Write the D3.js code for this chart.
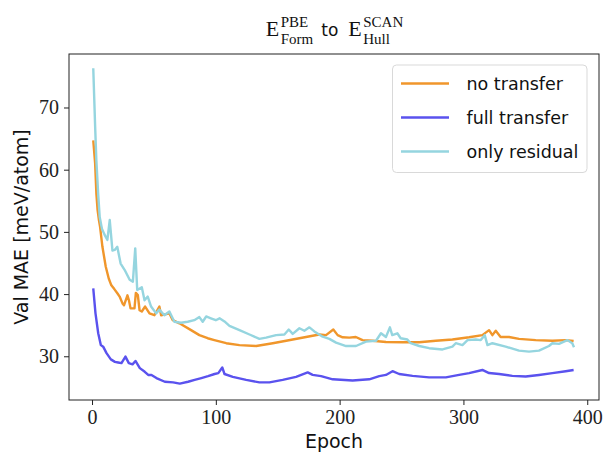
<!DOCTYPE html>
<html>
<head>
<meta charset="utf-8">
<script src="https://cdn.jsdelivr.net/npm/d3@7"></script>
<style>
  html, body { margin: 0; padding: 0; background: #fff; }
  svg { display: block; }
</style>
</head>
<body>
<svg id="chart" width="604" height="454"></svg>
<script>
// ---- data ----
const seriesNames = ["no transfer", "full transfer", "only residual"];
const seriesColors = ["#F0962B", "#5A52EE", "#95D5DF"];

const noTransferEpochs = [1, 2.5, 3.5, 4.5, 5.5, 6.5, 8.4, 11.1, 13.5, 15.6, 18, 20.6, 22.3, 24.6, 25.8, 28.6, 29.8, 31.1, 34.3, 35.4, 37, 38.4, 40.2, 42.9, 46.4, 50.4, 54.4, 55.8, 62.5, 65.2, 70.6, 80, 86.7, 93.4, 98.8, 108.4, 119.1, 132.6, 146, 156.8, 167.5, 178.2, 183.6, 189, 194.9, 198.4, 202.4, 207.8, 213.1, 218.5, 226.6, 237.4, 250.8, 264.3, 277.7, 291.1, 304.6, 315.3, 320.7, 323.4, 326.1, 330, 336.8, 344.9, 358.4, 371.8, 382.6, 389];
const noTransferValues = [64.7, 61.0, 56.2, 53.5, 52.0, 50.8, 47.6, 44.4, 42.5, 41.4, 40.8, 40.1, 39.6, 38.5, 38.2, 39.8, 39.0, 37.7, 37.7, 40.2, 39.85, 37.4, 37.2, 38.0, 36.9, 36.6, 38.0, 36.6, 36.9, 35.8, 35.3, 34.2, 33.4, 32.9, 32.6, 32.1, 31.8, 31.65, 32.1, 32.5, 32.9, 33.3, 33.5, 33.4, 34.3, 33.4, 33.05, 33.0, 33.1, 32.6, 32.5, 32.3, 32.25, 32.25, 32.5, 32.7, 33.05, 33.4, 34.2, 33.4, 34.1, 33.1, 33.1, 32.8, 32.6, 32.5, 32.6, 32.45];

const fullTransferEpochs = [1, 2.8, 5, 7.1, 9, 11.7, 15.2, 18.5, 21.1, 23.8, 27, 29.7, 32.7, 35.1, 38.6, 42.6, 45.4, 48, 52, 58.8, 65.5, 70.9, 77.6, 82.9, 88.3, 93.7, 99, 102, 105.2, 107, 113.7, 124.5, 135.2, 143.3, 154, 164.8, 174.2, 178.2, 185, 194.4, 210.5, 223.9, 232, 237.4, 242.7, 248.1, 258.9, 272.3, 285.8, 296.5, 304.6, 315.3, 320.7, 328.8, 339.5, 350.3, 361, 371.8, 382.6, 389];
const fullTransferValues = [40.9, 36.9, 33.7, 31.8, 31.55, 30.5, 29.5, 29.1, 29.0, 28.9, 29.95, 28.9, 28.7, 29.25, 28.1, 27.5, 27.0, 27.0, 26.5, 25.9, 25.8, 25.6, 25.9, 26.2, 26.5, 26.8, 27.15, 27.3, 28.2, 27.15, 26.7, 26.2, 25.8, 25.8, 26.2, 26.7, 27.4, 27.0, 26.8, 26.3, 26.1, 26.3, 26.8, 27.0, 27.6, 27.15, 26.85, 26.6, 26.6, 27.0, 27.3, 27.8, 27.3, 27.15, 26.85, 26.75, 27.0, 27.3, 27.6, 27.8];

const onlyResidualEpochs = [1, 2.5, 3.5, 5, 6.2, 8, 10, 12.4, 14.3, 16.5, 18.3, 20.4, 23.1, 26.3, 30.4, 33, 34.9, 36.5, 40.2, 42.4, 45, 47.7, 51.8, 54.4, 58.4, 62.5, 66.5, 71.9, 77.3, 82.6, 86.7, 89.4, 92.2, 96, 100, 103, 107, 111, 119.1, 127.2, 135.2, 140.6, 148.7, 155.4, 158.9, 162.1, 167.5, 171.5, 175.6, 179.6, 186.3, 191.7, 197.1, 205.2, 213.2, 221.3, 229.4, 233.4, 237.4, 240.6, 242.5, 246.6, 249.3, 254.7, 257.4, 264.3, 272.3, 283.1, 291.1, 293.8, 299.2, 303.3, 310, 314, 317.2, 319.4, 323.4, 334.1, 344.9, 353, 361, 369.1, 371.8, 377.2, 383.9, 387.9, 389.3];
const onlyResidualValues = [76.3, 67.0, 61.5, 56.0, 52.4, 50.5, 49.6, 48.7, 51.9, 47.0, 47.1, 47.6, 44.9, 43.9, 42.3, 42.0, 47.35, 40.65, 41.1, 39.0, 39.6, 38.0, 36.9, 37.5, 36.6, 37.2, 35.55, 35.4, 35.55, 35.8, 36.3, 35.55, 36.4, 36.1, 35.8, 36.1, 35.6, 34.9, 34.2, 33.5, 32.8, 33.0, 33.4, 33.5, 34.3, 33.6, 34.5, 34.1, 34.65, 34.0, 33.15, 32.8, 32.2, 31.65, 31.65, 32.35, 32.5, 33.7, 33.1, 34.65, 33.4, 33.7, 32.9, 32.7, 32.1, 31.65, 31.3, 31.1, 31.55, 32.1, 31.8, 32.6, 32.7, 32.6, 33.4, 31.8, 32.1, 31.55, 30.9, 30.75, 30.9, 31.65, 32.1, 32.0, 32.6, 32.1, 31.45];

const xTicks = [0, 100, 200, 300, 400];
const yTicks = [30, 40, 50, 60, 70];
const xLabel = "Epoch";
const yLabel = "Val MAE [meV/atom]";
// title pieces: E^{PBE}_{Form} to E^{SCAN}_{Hull}
const titleParts = [
  { base: "E", sup: "PBE", sub: "Form" },
  { word: "to" },
  { base: "E", sup: "SCAN", sub: "Hull" }
];

// ---- layout ----
const svg = d3.select("#chart");
const margin = { left: 69, right: 5, top: 54, bottom: 54 };
const W = 604, H = 454;
const x = d3.scaleLinear().domain([-18.6, 409.5]).range([margin.left, W - margin.right]);
const y = d3.scaleLinear().domain([22.97, 78.6]).range([H - margin.bottom, margin.top]);

const serif = "'Liberation Serif', 'DejaVu Serif', serif";
const sans = "'DejaVu Sans', 'Open Sans', sans-serif";

const series = [
  { name: seriesNames[0], color: seriesColors[0], ep: noTransferEpochs, v: noTransferValues },
  { name: seriesNames[1], color: seriesColors[1], ep: fullTransferEpochs, v: fullTransferValues },
  { name: seriesNames[2], color: seriesColors[2], ep: onlyResidualEpochs, v: onlyResidualValues }
];

const line = d3.line().x(d => x(d[0])).y(d => y(d[1]));
const plot = svg.append("g");
series.forEach(s => {
  plot.append("path")
    .datum(s.ep.map((e, i) => [e, s.v[i]]))
    .attr("fill", "none")
    .attr("stroke", s.color)
    .attr("stroke-width", 2.4)
    .attr("stroke-linejoin", "round")
    .attr("d", line);
});

// frame
svg.append("rect")
  .attr("x", margin.left).attr("y", margin.top)
  .attr("width", W - margin.right - margin.left)
  .attr("height", H - margin.bottom - margin.top)
  .attr("fill", "none").attr("stroke", "#222").attr("stroke-width", 1);

// axes
const xAxis = svg.append("g")
  .attr("transform", `translate(0,${H - margin.bottom})`)
  .call(d3.axisBottom(x).tickValues(xTicks).tickSize(5).tickPadding(5).tickFormat(d3.format("d")));
const yAxis = svg.append("g")
  .attr("transform", `translate(${margin.left},0)`)
  .call(d3.axisLeft(y).tickValues(yTicks).tickSize(5).tickPadding(5).tickFormat(d3.format("d")));
[xAxis, yAxis].forEach(a => {
  a.select(".domain").remove();
  a.selectAll(".tick line").attr("stroke", "#222");
  a.selectAll(".tick text").attr("font-family", serif).attr("font-size", 20).attr("fill", "#222");
});

// axis labels
svg.append("text")
  .attr("x", (margin.left + W - margin.right) / 2).attr("y", 448)
  .attr("text-anchor", "middle").attr("font-family", sans).attr("font-size", 19)
  .attr("fill", "#111").text(xLabel);
svg.append("text")
  .attr("transform", `translate(28,${(margin.top + H - margin.bottom) / 2}) rotate(-90)`)
  .attr("text-anchor", "middle").attr("font-family", sans).attr("font-size", 19)
  .attr("fill", "#111").text(yLabel);

// title, built piece by piece (sup stacked above sub)
const tg = svg.append("g");
const baseY = 36.3;
let cur = 0;
titleParts.forEach((p, i) => {
  if (p.word) {
    const t = tg.append("text").attr("x", cur + 8).attr("y", baseY)
      .attr("font-family", sans).attr("font-size", 17).attr("fill", "#111").text(p.word);
    cur += 8 + t.node().getComputedTextLength() + 10;
  } else {
    const b = tg.append("text").attr("x", cur).attr("y", baseY)
      .attr("font-family", serif).attr("font-size", 22).attr("fill", "#111").text(p.base);
    const bx = cur + b.node().getComputedTextLength() + 1.5;
    const sp = tg.append("text").attr("x", bx).attr("y", baseY - 9)
      .attr("font-family", serif).attr("font-size", 15).attr("fill", "#111").text(p.sup);
    const sb = tg.append("text").attr("x", bx).attr("y", baseY + 7.5)
      .attr("font-family", serif).attr("font-size", 15).attr("fill", "#111").text(p.sub);
    cur = bx + Math.max(sp.node().getComputedTextLength(), sb.node().getComputedTextLength());
  }
});
const titleCenter = 334.5;
tg.attr("transform", `translate(${titleCenter - cur / 2},0)`);

// legend
const lg = svg.append("g");
lg.append("rect")
  .attr("x", 392.5).attr("y", 65).attr("width", 194.5).attr("height", 107.5)
  .attr("rx", 4).attr("fill", "#fff").attr("fill-opacity", 0.85)
  .attr("stroke", "#d9d9d9").attr("stroke-width", 1);
series.forEach((s, i) => {
  const yy = 83.5 + i * 34;
  lg.append("line").attr("x1", 401).attr("x2", 449).attr("y1", yy).attr("y2", yy)
    .attr("stroke", s.color).attr("stroke-width", 2.4);
  lg.append("text").attr("x", 466.5).attr("y", yy + 6.5)
    .attr("font-family", sans).attr("font-size", 17.5).attr("fill", "#111").text(s.name);
});
</script>
</body>
</html>
